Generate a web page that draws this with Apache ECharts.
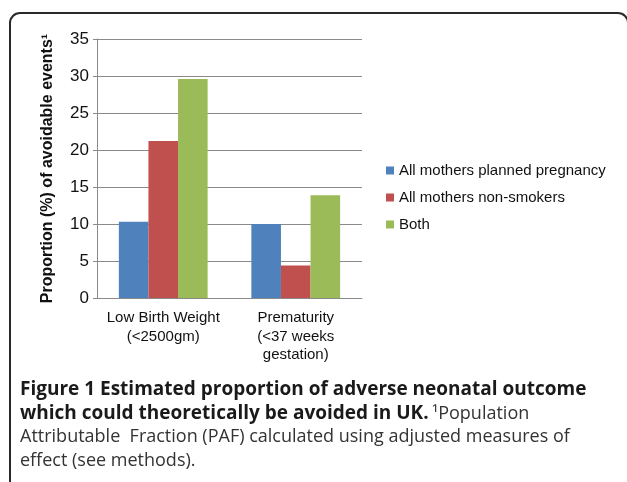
<!DOCTYPE html>
<html>
<head>
<meta charset="utf-8">
<script src="https://cdn.jsdelivr.net/npm/echarts@6/dist/echarts.min.js"></script>
<style>
  html, body { margin: 0; padding: 0; background: #fff; }
  #main { width: 627px; height: 482px; }
</style>
</head>
<body>
<div id="main"></div>
<script>
var myChart = echarts.init(document.getElementById('main'));

const categories = ['Low Birth Weight\n(<2500gm)', 'Prematurity\n(<37 weeks\ngestation)'];
const planned = [10.3, 10.0];
const nonSmokers = [21.2, 4.4];
const both = [29.6, 13.9];
const seriesNames = ['All mothers planned pregnancy', 'All mothers non-smokers', 'Both'];
const colors = ['#4f81bd', '#c0504d', '#9bbb59'];
const yTicks = { min: 0, max: 35, interval: 5 };

const chartFont = 'Liberation Sans';
const capFont = 'Open Sans';

const option = {
  animation: false,
  color: colors,
  grid: {
    left: 97,
    top: 39,
    right: 265,
    bottom: 184
  },
  legend: {
    orient: 'vertical',
    left: 381,
    top: 158,
    itemWidth: 8,
    itemHeight: 8,
    itemGap: 12,
    icon: 'rect',
    textStyle: {
      fontFamily: chartFont,
      fontSize: 15,
      color: '#111'
    },
    data: seriesNames
  },
  xAxis: {
    type: 'category',
    data: categories,
    axisLine: { lineStyle: { color: '#8a8a8a', width: 1 } },
    axisTick: { show: false },
    axisLabel: {
      interval: 0,
      fontFamily: chartFont,
      fontSize: 15,
      color: '#111',
      lineHeight: 18.5,
      margin: 11
    }
  },
  yAxis: {
    type: 'value',
    min: yTicks.min,
    max: yTicks.max,
    interval: yTicks.interval,
    name: 'Proportion (%) of avoidable events¹',
    nameLocation: 'middle',
    nameRotate: 90,
    nameGap: 41,
    nameTextStyle: {
      fontFamily: chartFont,
      fontSize: 16,
      fontWeight: 'bold',
      color: '#111'
    },
    axisLine: { show: true, lineStyle: { color: '#8a8a8a', width: 1 } },
    axisTick: { show: true, length: 4, lineStyle: { color: '#8a8a8a' } },
    axisLabel: {
      fontFamily: chartFont,
      fontSize: 17,
      color: '#111',
      margin: 8
    },
    splitLine: { lineStyle: { color: '#8a8a8a', width: 1 } }
  },
  series: [
    { name: seriesNames[0], type: 'bar', data: planned, barGap: '0%', barCategoryGap: '33%' },
    { name: seriesNames[1], type: 'bar', data: nonSmokers, barGap: '0%', barCategoryGap: '33%' },
    { name: seriesNames[2], type: 'bar', data: both, barGap: '0%', barCategoryGap: '33%' }
  ],
  graphic: [
    {
      type: 'rect',
      silent: true,
      shape: { x: 10, y: 13, width: 618, height: 520, r: [10, 10, 0, 0] },
      style: { fill: 'none', stroke: '#2a2a2a', lineWidth: 2 }
    },
    {
      type: 'text',
      left: 20,
      top: 380,
      style: {
        text: 'Figure 1 Estimated proportion of adverse neonatal outcome',
        font: 'bold 19px "Open Sans"',
        fill: '#1a1a1a'
      }
    },
    {
      type: 'text',
      left: 20,
      top: 404,
      style: {
        text: '{b|which could theoretically be avoided in UK.} {n|¹Population}',
        rich: {
          b: { fontFamily: capFont, fontWeight: 'bold', fontSize: 19, fill: '#1a1a1a' },
          n: { fontFamily: capFont, fontSize: 18, fill: '#333' }
        }
      }
    },
    {
      type: 'text',
      left: 20,
      top: 428,
      style: {
        text: 'Attributable  Fraction (PAF) calculated using adjusted measures of',
        font: '18px "Open Sans"',
        fill: '#333'
      }
    },
    {
      type: 'text',
      left: 20,
      top: 452,
      style: {
        text: 'effect (see methods).',
        font: '18px "Open Sans"',
        fill: '#333'
      }
    }
  ]
};

myChart.setOption(option);
</script>
</body>
</html>
